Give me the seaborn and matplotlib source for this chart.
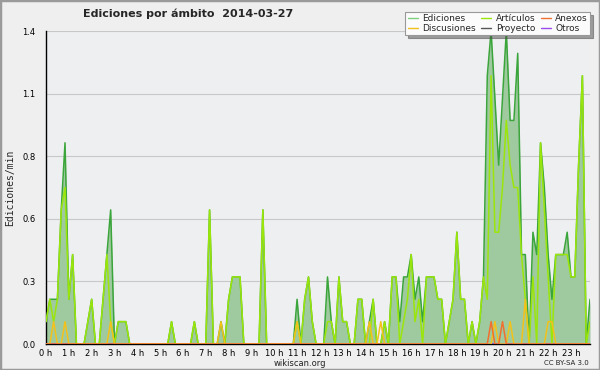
import numpy as np
import pandas as pd
import matplotlib
matplotlib.use("Agg")
import matplotlib.pyplot as plt
from matplotlib.lines import Line2D
from matplotlib.patches import Rectangle
import seaborn as sns

# edits per minute, one value per 10-minute slot (0h00 .. 23h50)
ediciones = [
    0.1, 0.2, 0.2, 0.2, 0.6, 0.9, 0.2, 0.4, 0, 0, 0, 0.1,
    0.2, 0, 0, 0.2, 0.4, 0.6, 0, 0.1, 0.1, 0.1, 0, 0,
    0, 0, 0, 0, 0, 0, 0, 0, 0, 0.1, 0, 0,
    0, 0, 0, 0.1, 0, 0, 0, 0.6, 0, 0, 0.1, 0,
    0.2, 0.3, 0.3, 0.3, 0, 0, 0, 0, 0, 0.6, 0, 0,
    0, 0, 0, 0, 0, 0, 0.2, 0, 0.2, 0.3, 0.1, 0,
    0, 0, 0.3, 0.1, 0, 0.3, 0.1, 0.1, 0, 0, 0.2, 0.2,
    0, 0.1, 0.2, 0, 0, 0.1, 0, 0.3, 0.3, 0.1, 0.3, 0.3,
    0.4, 0.2, 0.3, 0.1, 0.3, 0.3, 0.3, 0.2, 0.2, 0, 0.1, 0.2,
    0.5, 0.2, 0.2, 0, 0.1, 0, 0.1, 0.3, 1.2, 1.4, 1.1, 0.8,
    1.1, 1.4, 1.0, 1.0, 1.3, 0.4, 0.4, 0, 0.5, 0.4, 0.9, 0.7,
    0.4, 0.2, 0.4, 0.4, 0.4, 0.5, 0.3, 0.3, 0.8, 1.2, 0, 0.2,
]
articulos = [
    0.1, 0.2, 0.1, 0.2, 0.6, 0.7, 0.2, 0.4, 0, 0, 0, 0.1,
    0.2, 0, 0, 0.2, 0.4, 0.1, 0, 0.1, 0.1, 0.1, 0, 0,
    0, 0, 0, 0, 0, 0, 0, 0, 0, 0.1, 0, 0,
    0, 0, 0, 0.1, 0, 0, 0, 0.6, 0, 0, 0, 0,
    0.2, 0.3, 0.3, 0.3, 0, 0, 0, 0, 0, 0.6, 0, 0,
    0, 0, 0, 0, 0, 0, 0.1, 0, 0.2, 0.3, 0.1, 0,
    0, 0, 0.1, 0.1, 0, 0.3, 0.1, 0.1, 0, 0, 0.2, 0.2,
    0, 0, 0.2, 0, 0, 0.1, 0, 0.3, 0.3, 0, 0.1, 0.2,
    0.4, 0.1, 0.2, 0, 0.3, 0.3, 0.3, 0.2, 0.2, 0, 0.1, 0.2,
    0.5, 0.2, 0.2, 0, 0.1, 0, 0.1, 0.3, 0.2, 1.2, 0.5, 0.5,
    0.7, 1.0, 0.8, 0.7, 0.7, 0.4, 0.2, 0, 0.3, 0, 0.9, 0.6,
    0.3, 0, 0.4, 0.4, 0.4, 0.4, 0.3, 0.3, 0.8, 1.2, 0, 0.1,
]
discusiones = [0.0] * 144
for i, v in [(2, 0.1), (5, 0.1), (17, 0.1), (46, 0.1), (66, 0.1), (85, 0.1),
             (88, 0.1), (118, 0.1), (122, 0.1), (126, 0.2), (132, 0.1), (133, 0.1)]:
    discusiones[i] = v
anexos = [0.0] * 144
for i, v in [(117, 0.1), (120, 0.1)]:
    anexos[i] = v
proyecto = [0.0] * 144
otros = [0.0] * 144

hours = np.arange(144) / 6
hour_labels = [f"{h} h" for h in range(24)]
y_major = [0, 0.28, 0.56, 0.84, 1.12, 1.4]

series = [
    ("Ediciones", ediciones, "#3aa53a"),
    ("Discusiones", discusiones, "#f2c21b"),
    ("Artículos", articulos, "#9be60a"),
    ("Proyecto", proyecto, "#555555"),
    ("Anexos", anexos, "#f07030"),
    ("Otros", otros, "#9a4cf0"),
]
df = pd.DataFrame({"hora": hours})
for name, vals, _ in series:
    df[name] = vals

sns.set_style("white", {"axes.facecolor": "#eeeff1"})
plt.rcParams["font.family"] = ["DejaVu Sans"]

fig = plt.figure(figsize=(6, 3.7), dpi=100, facecolor="#efefef")
ax = fig.add_axes([46 / 600, 26 / 370, 544 / 600, 313 / 370])

ax.fill_between(df["hora"], df["Ediciones"], 0, color="#9fc99f", lw=0, zorder=1)
draw_order = ["Proyecto", "Otros", "Ediciones", "Artículos", "Discusiones", "Anexos"]
colors = {n: c for n, _, c in series}
for n in draw_order:
    sns.lineplot(data=df, x="hora", y=n, color=colors[n], lw=1.1, ax=ax, zorder=3)

ax.set_xlim(0, 143 / 6)
ax.set_ylim(0, 1.4)
ax.set_xticks(range(24))
ax.set_xticklabels(hour_labels)
ax.set_xticks(hours, minor=True)
ax.set_yticks(y_major)
ax.set_yticklabels([f"{v:.1f}" for v in y_major])
ax.set_yticks(np.arange(0, 1.41, 0.07), minor=True)
ax.grid(axis="y", color="#c8c8c8", lw=0.8, zorder=0)
ax.set_axisbelow(True)
ax.tick_params(axis="both", which="major", direction="out", length=4,
               width=0.8, labelsize=6, pad=1.5, colors="black")
ax.tick_params(axis="y", which="major", length=6)
ax.tick_params(axis="both", which="minor", direction="out", length=3, width=0.8)
ax.tick_params(axis="x", which="major", length=3, pad=0.5)
for s in ["top", "right"]:
    ax.spines[s].set_visible(False)
for s in ["left", "bottom"]:
    ax.spines[s].set_color("black")
    ax.spines[s].set_linewidth(1.0)
ax.set_xlabel("")
ax.set_ylabel("")

fig.text(188 / 600, 1 - 14 / 370, "Ediciones por ámbito  2014-03-27",
         ha="center", va="center", fontsize=8, fontweight="bold")
fig.text(10 / 600, 1 - 188 / 370, "Ediciones/min", rotation=90,
         ha="center", va="center", fontsize=7, family="DejaVu Sans Mono")
fig.text(300 / 600, 1 - 363 / 370, "wikiscan.org", ha="center", va="center",
         fontsize=6, color="#222222")
fig.text(589 / 600, 1 - 363 / 370, "CC BY-SA 3.0", ha="right", va="center",
         fontsize=5, color="#222222")

handles = [Line2D([], [], color=("#7fcf7f" if n == "Ediciones" else c), lw=1.0)
           for n, _, c in series]
leg = fig.legend(handles, [n for n, _, _ in series], ncol=3, loc="upper right",
                 bbox_to_anchor=(590 / 600, 1 - 12 / 370), borderaxespad=0,
                 fontsize=6.5, frameon=True, fancybox=False, shadow=True,
                 borderpad=0.25, labelspacing=0.1, handlelength=1.1,
                 handletextpad=0.5, columnspacing=0.6)
leg.get_frame().set_facecolor("#fbfbfb")
leg.get_frame().set_edgecolor("#999999")
leg.get_frame().set_linewidth(0.8)

fig.patches.append(Rectangle((0, 0), 1, 1, transform=fig.transFigure,
                             fill=False, edgecolor="#9a9a9a", lw=2.5))
fig.savefig("out.png", dpi=100, facecolor=fig.get_facecolor())
